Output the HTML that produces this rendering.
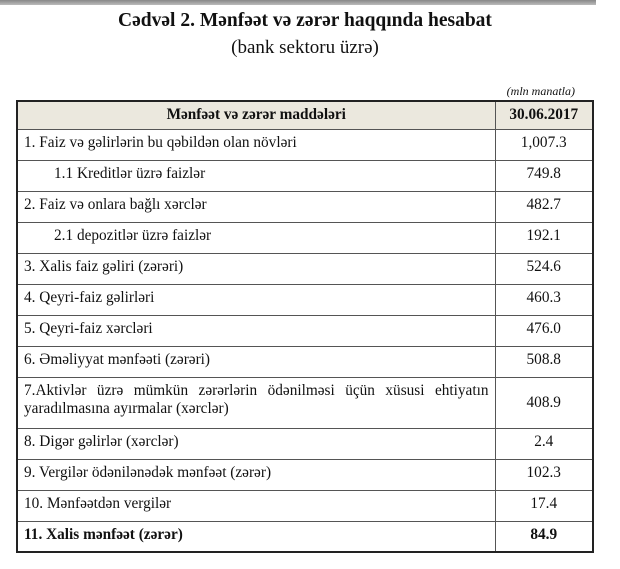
<!DOCTYPE html>
<html><head><meta charset="utf-8"><style>
body{margin:0;width:620px;height:569px;background:#fff;position:relative;font-family:"Liberation Serif",serif;color:#111;overflow:hidden}
.bar{position:absolute;left:0;top:0;width:596px;height:5px;background:linear-gradient(#888,#bbb)}
.t1{position:absolute;left:0;width:610px;top:10px;text-align:center;font-weight:bold;font-size:19.5px}
.t2{position:absolute;left:0;width:610px;top:37px;text-align:center;font-size:19px}
.mln{position:absolute;right:45px;top:84px;font-style:italic;font-size:12px}
table{position:absolute;left:16px;top:100px;border-collapse:collapse;border:2px solid #222}
td{border:1px solid #555;font-size:15.3px;vertical-align:top;padding:4px 6px 0 6px;height:27px;box-sizing:border-box;line-height:18px}
td.v{text-align:center;width:98px}
td.l{width:478px}
tr.h td{background:#ebe8de;font-weight:bold;vertical-align:middle;padding:0 6px;text-align:center;height:28px}
td.i{padding-left:36px}
tr.r td{height:31px}
tr.b td{font-weight:bold}
</style></head><body>
<div class="bar"></div>
<div class="t1">Cədvəl 2. Mənfəət və zərər haqqında hesabat</div>
<div class="t2">(bank sektoru üzrə)</div>
<div class="mln">(mln manatla)</div>
<table>
<tr class="h"><td class="l">Mənfəət və zərər maddələri</td><td class="v">30.06.2017</td></tr>
<tr class="r"><td class="l">1. Faiz və gəlirlərin bu qəbildən olan növləri</td><td class="v">1,007.3</td></tr>
<tr class="r"><td class="l i">1.1 Kreditlər üzrə faizlər</td><td class="v">749.8</td></tr>
<tr class="r"><td class="l">2. Faiz və onlara bağlı xərclər</td><td class="v">482.7</td></tr>
<tr class="r"><td class="l i">2.1 depozitlər üzrə faizlər</td><td class="v">192.1</td></tr>
<tr class="r"><td class="l">3. Xalis faiz gəliri (zərəri)</td><td class="v">524.6</td></tr>
<tr class="r"><td class="l">4. Qeyri-faiz gəlirləri</td><td class="v">460.3</td></tr>
<tr class="r"><td class="l">5. Qeyri-faiz xərcləri</td><td class="v">476.0</td></tr>
<tr class="r"><td class="l">6. Əməliyyat mənfəəti (zərəri)</td><td class="v">508.8</td></tr>
<tr style="height:51px"><td class="l" style="text-align:justify;text-align-last:left;height:51px">7.Aktivlər üzrə mümkün zərərlərin ödənilməsi üçün xüsusi ehtiyatın yaradılmasına ayırmalar (xərclər)</td><td class="v" style="vertical-align:middle;padding-top:0">408.9</td></tr>
<tr class="r"><td class="l">8. Digər gəlirlər (xərclər)</td><td class="v">2.4</td></tr>
<tr class="r"><td class="l">9. Vergilər ödənilənədək mənfəət (zərər)</td><td class="v">102.3</td></tr>
<tr class="r"><td class="l">10. Mənfəətdən vergilər</td><td class="v">17.4</td></tr>
<tr class="r b"><td class="l">11. Xalis mənfəət (zərər)</td><td class="v">84.9</td></tr>
</table>
</body></html>
